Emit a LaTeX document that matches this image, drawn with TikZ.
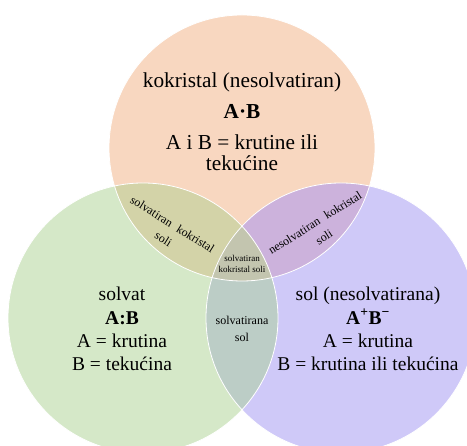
\documentclass[tikz,border=0pt]{standalone}
\usepackage{fontspec}
\setmainfont{Liberation Serif}
\definecolor{cOr}{HTML}{F8D7C0}
\definecolor{cGr}{HTML}{D5E8C8}
\definecolor{cPu}{HTML}{CFC9F8}
\definecolor{cOG}{HTML}{D3D3A8}
\definecolor{cOP}{HTML}{CCB2DC}
\definecolor{cGP}{HTML}{BCCDC6}
\definecolor{cAll}{HTML}{C3C5AF}
\begin{document}
\begin{tikzpicture}[x=1pt,y=1pt,
  huge/.style={align=center, inner sep=0, font=\fontsize{21.3}{21.5}\selectfont},
  big/.style={align=center, inner sep=0, font=\fontsize{19.5}{23.3}\selectfont},
  mid/.style={align=center, inner sep=0, font=\fontsize{12}{17}\selectfont},
  tiny/.style={align=center, inner sep=0, font=\fontsize{9}{11}\selectfont},
  rim/.style={draw=white, line width=0.8pt}]
\useasboundingbox (0,0) rectangle (467,446);
\clip (0,0) rectangle (467,446);
\coordinate (T) at (242,298);
\coordinate (L) at (143,128);
\coordinate (R) at (341,128);
% base circles
\fill[cOr] (T) circle (133);
\fill[cGr] (L) circle (135);
\fill[cPu] (R) circle (135);
% pairwise overlaps
\begin{scope}
  \clip (T) circle (133);
  \fill[cOG] (L) circle (135);
  \fill[cOP] (R) circle (135);
\end{scope}
\begin{scope}
  \clip (L) circle (135);
  \fill[cGP] (R) circle (135);
\end{scope}
\begin{scope}
  \clip (T) circle (133);
  \clip (L) circle (135);
  \fill[cAll] (R) circle (135);
\end{scope}
% rims
\draw[rim] (T) circle (133);
\draw[rim] (L) circle (135);
\draw[rim] (R) circle (135);
% texts
\node[huge] (t1) at (242,364) {kokristal (nesolvatiran)};
\node[huge] (t2) at (242,334) {\textbf{A·B}};
\node[huge] (t3) at (242,293.5) {A i B = krutine ili\\tekućine};
\node[big] (l1) at (122,117) {solvat\\\textbf{A:B}\\A = krutina\\B = tekućina};
\node[big] (r1) at (368,117) {sol (nesolvatirana)\\\textbf{A\textsuperscript{+}B\textsuperscript{−}}\\A = krutina\\B = krutina ili tekućina};
\node[mid] (c1) at (242,117.5) {solvatirana\\sol};
\node[tiny] (c2) at (242,182.5) {solvatiran\\kokristal soli};
\node[mid, rotate=-32] (lo) at (168,214.5) {solvatiran\hspace{4pt} kokristal\\soli};
\node[mid, rotate=32] (ro) at (319.5,216) {nesolvatiran\hspace{4pt} kokristal\\soli};
\end{tikzpicture}
\end{document}
